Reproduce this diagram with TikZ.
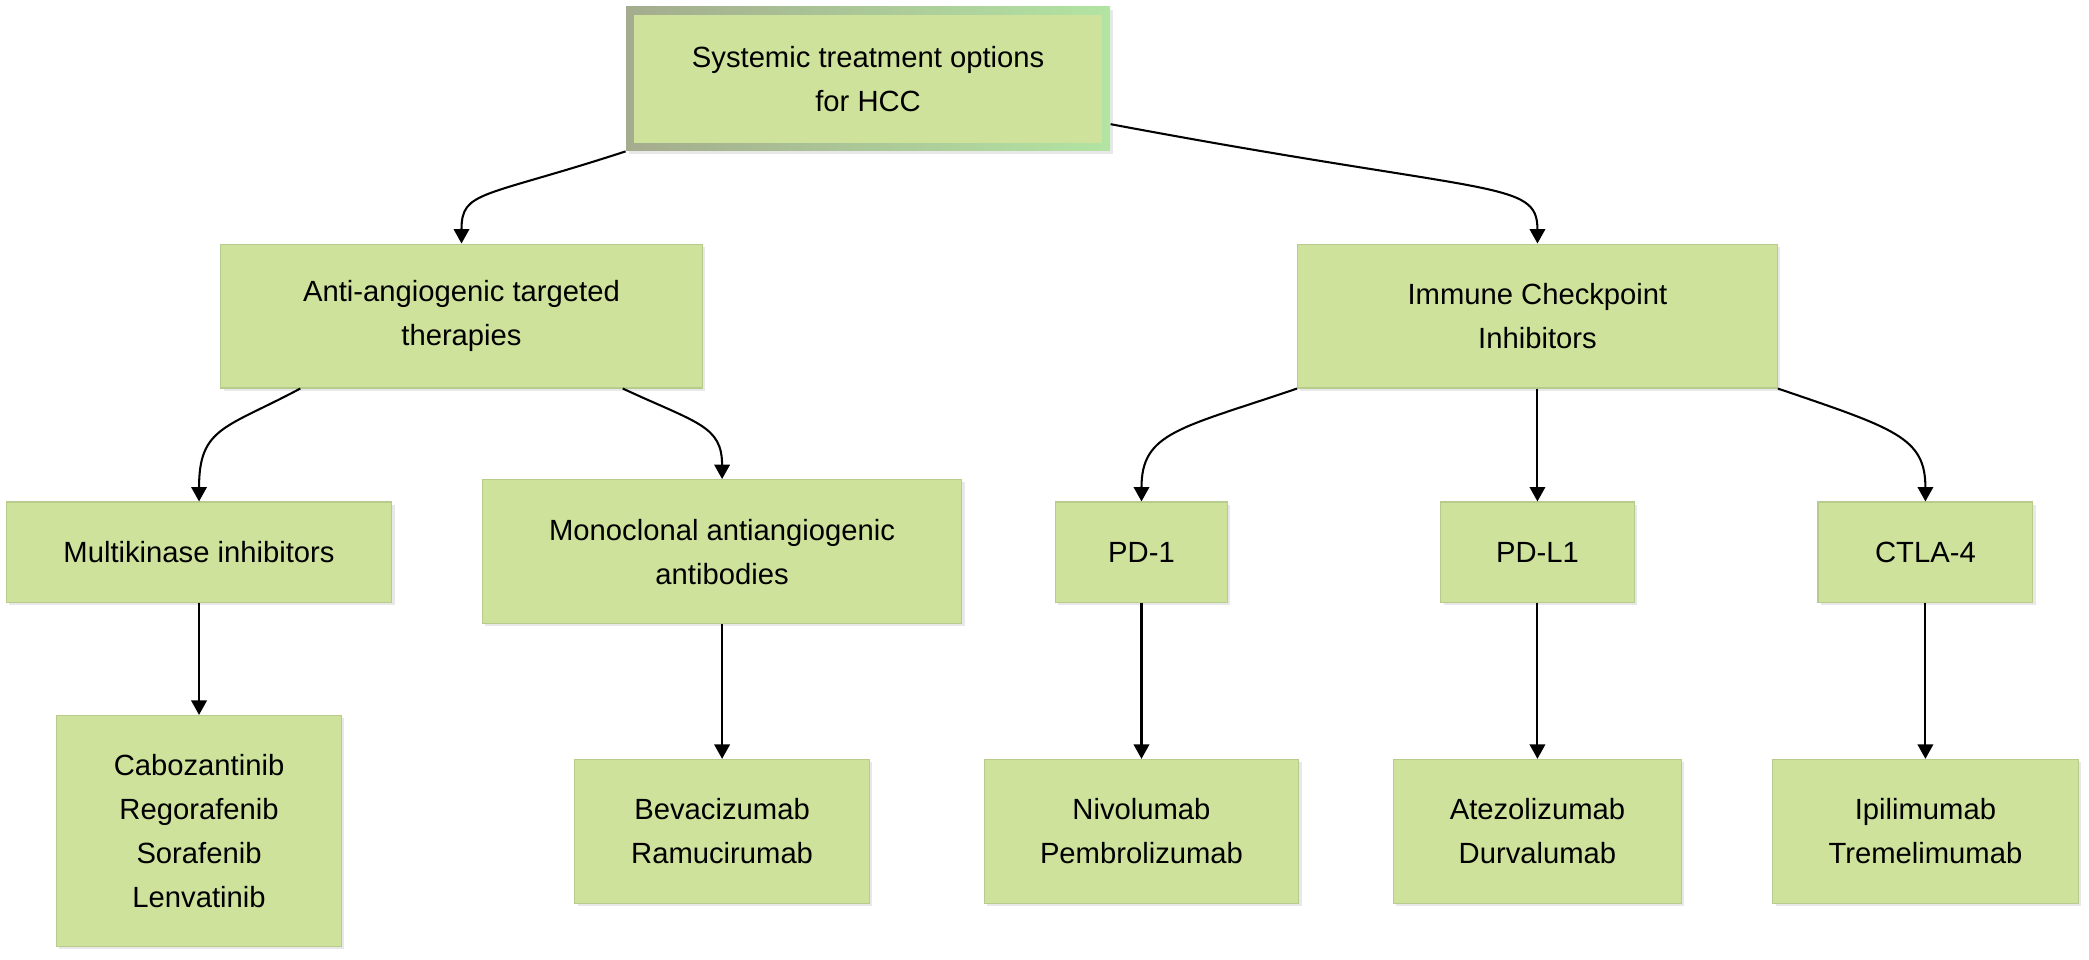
\documentclass[tikz,border=0pt]{standalone}
\usepackage{fontspec}
\setmainfont{Liberation Sans}
\usetikzlibrary{arrows.meta,shadows}

\definecolor{boxfill}{HTML}{CFE29B}
\definecolor{boxline}{HTML}{B7CB8D}
\definecolor{rimleft}{HTML}{A4AC8E}
\definecolor{rimright}{HTML}{B2E4A2}

\begin{document}
\begin{tikzpicture}[
    box/.style={draw=boxline, line width=0.6pt, fill=boxfill, align=center,
        font=\fontsize{15.6}{23.5}\selectfont, inner sep=0pt,
        drop shadow={shadow xshift=1.5pt, shadow yshift=-1.5pt, opacity=0.18}},
    link/.style={line width=1.1pt, -{Triangle[length=0.27cm,width=0.29cm]}}
]
    % Page frame
    \useasboundingbox (0,0) rectangle (39.2,-18);

    % Root
    \node[box, draw=none, left color=rimleft, right color=rimright,
        minimum width=9.08cm, minimum height=2.7cm,
        path picture={\fill[boxfill] ([shift={(0.15cm,0.15cm)}]path picture bounding box.south west)
            rectangle ([shift={(-0.15cm,-0.15cm)}]path picture bounding box.north east);}]
        (root) at (16.29,-1.48) {Systemic treatment options\\for HCC};

    % Two families
    \node[box, minimum width=9.03cm, minimum height=2.7cm] (anti) at (8.66,-5.93) {Anti-angiogenic targeted\\therapies};
    \node[box, minimum width=9cm, minimum height=2.7cm] (ici) at (28.85,-5.93) {Immune Checkpoint\\Inhibitors};

    % Classes
    \node[box, minimum width=7.23cm, minimum height=1.88cm] (mki) at (3.735,-10.36) {Multikinase inhibitors};
    \node[box, minimum width=9cm, minimum height=2.7cm] (mab) at (13.55,-10.35) {Monoclonal antiangiogenic\\antibodies};
    \node[box, minimum width=3.23cm, minimum height=1.88cm] (pd1) at (21.42,-10.36) {PD-1};
    \node[box, minimum width=3.63cm, minimum height=1.88cm] (pdl1) at (28.85,-10.36) {PD-L1};
    \node[box, minimum width=4.03cm, minimum height=1.88cm] (ctla) at (36.13,-10.36) {CTLA-4};

    % Drugs
    \node[box, minimum width=5.35cm, minimum height=4.33cm] (mkidrugs) at (3.735,-15.59) {Cabozantinib\\Regorafenib\\Sorafenib\\Lenvatinib};
    \node[box, minimum width=5.53cm, minimum height=2.7cm] (mabdrugs) at (13.55,-15.6) {Bevacizumab\\Ramucirumab};
    \node[box, minimum width=5.9cm, minimum height=2.7cm] (pd1drugs) at (21.42,-15.6) {Nivolumab\\Pembrolizumab};
    \node[box, minimum width=5.4cm, minimum height=2.7cm] (pdl1drugs) at (28.85,-15.6) {Atezolizumab\\Durvalumab};
    \node[box, minimum width=5.73cm, minimum height=2.7cm] (ctladrugs) at (36.13,-15.6) {Ipilimumab\\Tremelimumab};

    % Curved links
    \draw[link] (root.south west) .. controls +(-2.7,-0.88) and +(0,1.0) .. (anti.north);
    \draw[link] ([yshift=-0.85cm]root.east) .. controls +(7.2,-1.35) and +(0,1.2) .. (ici.north);
    \draw[link] ([xshift=1.5cm]anti.south west) .. controls +(-1.4,-0.75) and +(0,1.4) .. (mki.north);
    \draw[link] ([xshift=-1.5cm]anti.south east) .. controls +(1.4,-0.65) and +(0,1.0) .. (mab.north);
    \draw[link] (ici.south west) .. controls +(-2.2,-0.75) and +(0,1.3) .. (pd1.north);
    \draw[link] (ici.south east) .. controls +(2.2,-0.75) and +(0,1.2) .. (ctla.north);

    % Straight links
    \draw[link] (ici) -- (pdl1);
    \draw[link] (mki) -- (mkidrugs);
    \draw[link] (mab) -- (mabdrugs);
    \draw[link] (pd1) -- (pd1drugs);
    \draw[link] (pdl1) -- (pdl1drugs);
    \draw[link] (ctla) -- (ctladrugs);

\end{tikzpicture}
\end{document}
